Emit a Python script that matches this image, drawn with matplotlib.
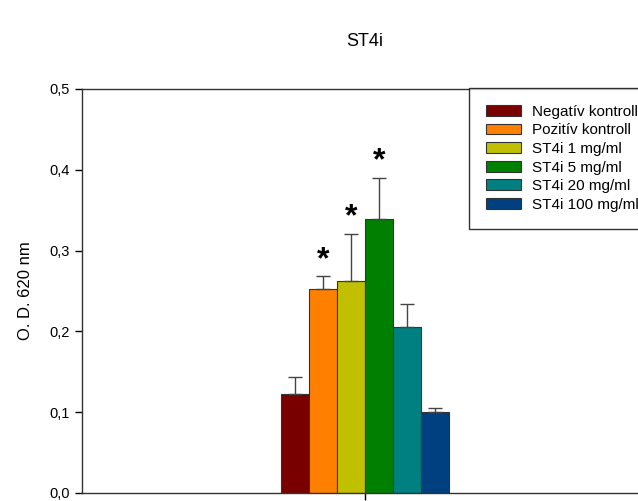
import numpy as np
import matplotlib
matplotlib.use("Agg")
import matplotlib.pyplot as plt
from matplotlib.ticker import FuncFormatter

plt.rcParams['font.family'] = ['Liberation Sans', 'DejaVu Sans']

groups = ["Negatív kontroll", "Pozitív kontroll", "ST4i 1 mg/ml",
          "ST4i 5 mg/ml", "ST4i 20 mg/ml", "ST4i 100 mg/ml"]
means = [0.123, 0.252, 0.262, 0.339, 0.206, 0.100]
errors = [0.020, 0.016, 0.059, 0.051, 0.028, 0.005]
significant = [False, True, True, True, False, False]
colors = ["#7a0000", "#ff8000", "#c0c000", "#008000", "#008080", "#004080"]

fig = plt.figure(figsize=(6.38, 5.01), dpi=100)
ax = fig.add_axes([82 / 638, 8 / 501, 566 / 638, 404 / 501])

width = 2 * 28 / 566
for i, (name, m, e, c) in enumerate(zip(groups, means, errors, colors)):
    x = (i - 2.5) * width
    ax.bar(x, m, width, color=c, edgecolor="#333333", linewidth=0.8, label=name)
    ax.errorbar(x, m, yerr=[[0], [e]], fmt="none", ecolor="#444444",
                elinewidth=1, capsize=5, capthick=1)
    if significant[i]:
        ax.annotate("*", (x, m + e), xytext=(0, 1), textcoords="offset points",
                    ha="center", va="bottom", fontsize=23, fontweight="bold")

ax.set_xlim(-1, 1)
ax.set_ylim(0, 0.5)
ax.set_xticks([0])
ax.set_xticklabels([])
ax.set_yticks(np.arange(0, 0.51, 0.1))
ax.yaxis.set_major_formatter(FuncFormatter(lambda v, p: f"{v:.1f}".replace(".", ",")))
ax.tick_params(axis="both", direction="out", length=5, width=1, labelsize=10.5)
for s in ax.spines.values():
    s.set_color("#333333")
    s.set_linewidth(1)

ax.set_ylabel("O. D. 620 nm", fontsize=12, labelpad=12)
fig.text(365 / 638, 1 - 42 / 501, "ST4i", ha="center", va="center", fontsize=13)

leg = ax.legend(loc="upper left", bbox_to_anchor=(469 / 638, 1 - 88 / 501),
                bbox_transform=fig.transFigure, fontsize=11, frameon=True,
                fancybox=False, edgecolor="black", handlelength=2.3,
                handleheight=0.7, labelspacing=0.3, borderpad=1.1,
                handletextpad=0.75, borderaxespad=0)
leg.get_frame().set_linewidth(1)

fig.savefig("out.png", dpi=100)
